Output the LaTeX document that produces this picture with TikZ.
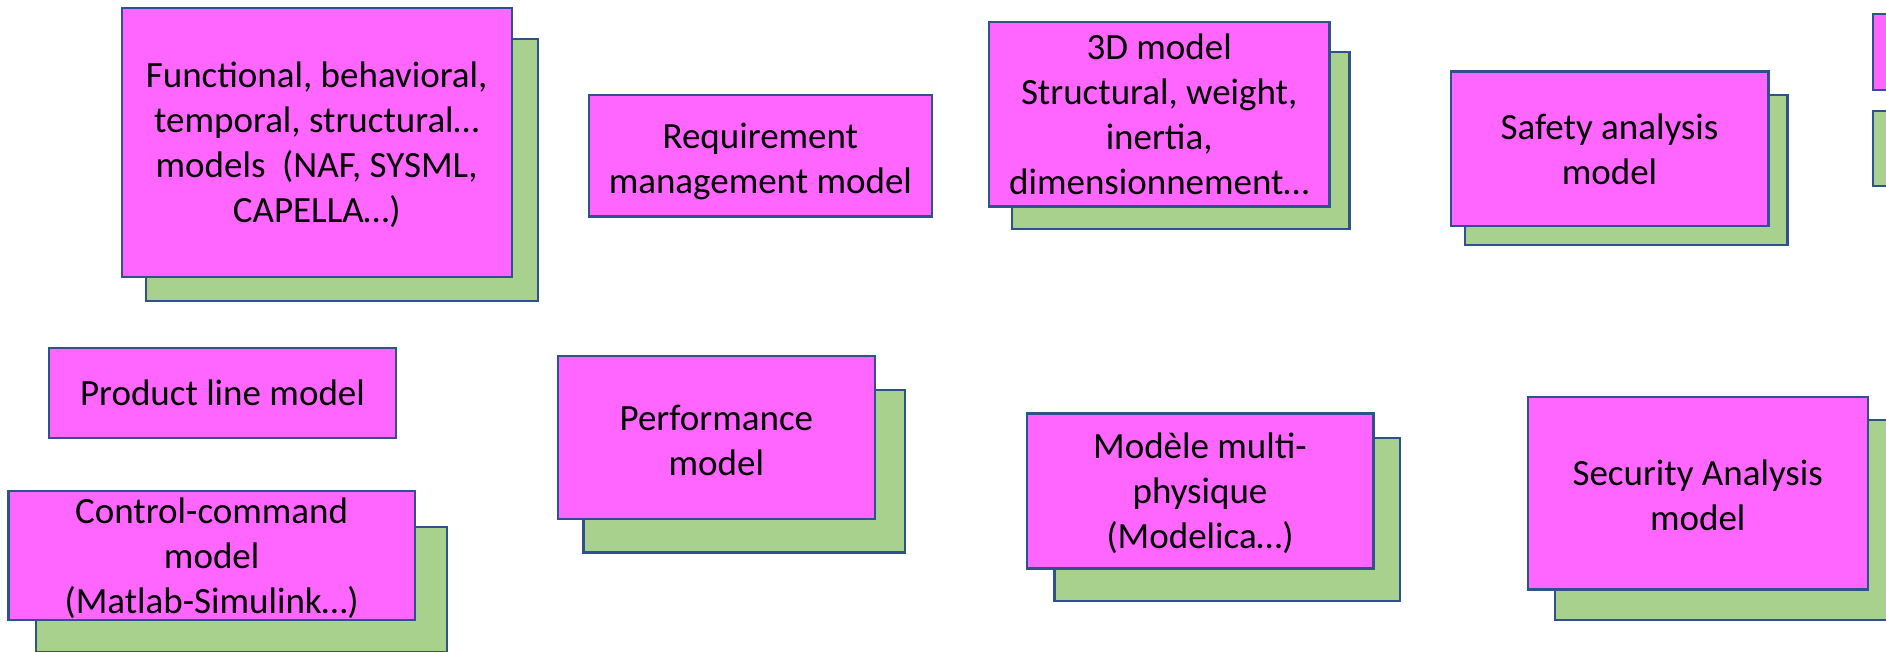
\documentclass[tikz,border=0pt]{standalone}
\usepackage{fontspec}
\setmainfont{Carlito}
\definecolor{cardpink}{HTML}{FF66FF}
\definecolor{cardgreen}{HTML}{A9D18E}
\definecolor{cardline}{HTML}{2F528F}
\tikzset{
  cardbase/.style={draw=cardline, line width=2.4pt, inner sep=0pt, outer sep=0pt, rectangle},
  frontcard/.style={cardbase, fill=cardpink},
  backcard/.style={cardbase, fill=cardgreen},
  cardtext/.style={align=center, inner sep=0pt, font=\fontsize{37}{45}\selectfont},
}
% \card[style]{name}{x1}{y1}{x2}{y2}{text}: a box given by its corners (in px, y downwards)
\newcommand{\card}[7][frontcard]{%
  \pgfmathsetmacro{\cw}{#5-#3}\pgfmathsetmacro{\ch}{#6-#4}%
  \node[#1, minimum width=\cw pt, minimum height=\ch pt] (#2) at ({(#3+#5)/2},{(#4+#6)/2}) {};%
}
% \cardlabel{name}{drop}{text}: the text of a box, centred and lowered by drop
\newcommand{\cardlabel}[3]{%
  \node[cardtext, yshift=-#2pt] (#1-text) at (#1.center) {#3};%
}
\begin{document}
\begin{tikzpicture}[x=1pt,y=-1pt]
  \useasboundingbox (0,0) rectangle (1886,652);
  \begin{scope}
  \clip (0,0) rectangle (1886,652);
  % functional models
  \card[backcard]{funcB}{146}{39.3}{537.7}{301}{}
  \card{func}{121.7}{8.3}{511.7}{276.7}{}
  \cardlabel{func}{2.5}{Functional, behavioral,\\temporal, structural…\\models\ \ (NAF, SYSML,\\CAPELLA…)}
  % requirements
  \card{req}{589}{95}{931.7}{216.7}{}
  \cardlabel{req}{6}{Requirement\\management model}
  % 3D model
  \card[backcard]{cadB}{1011.7}{52.3}{1349.3}{229}{}
  \card{cad}{989}{22.3}{1329.3}{206.7}{}
  \cardlabel{cad}{0}{3D model\\Structural, weight,\\inertia,\\dimensionnement…}
  % safety
  \card[backcard]{safB}{1465}{95}{1787.3}{245}{}
  \card{saf}{1450.7}{71.7}{1768.3}{226}{}
  \cardlabel{saf}{0.5}{Safety analysis\\model}
  % right-hand edge
  \card{edgeP}{1872.7}{14.3}{1910}{90}{}
  \card[backcard]{edgeG}{1872.7}{111}{1910}{186}{}
  % product line
  \card{prod}{49}{347.7}{396}{437.7}{}
  \cardlabel{prod}{0.5}{Product line model}
  % performance
  \card[backcard]{perfB}{583.3}{390}{905}{552.3}{}
  \card{perf}{557.7}{356}{875}{519}{}
  \cardlabel{perf}{2.5}{Performance\\model}
  % multi-physics
  \card[backcard]{physB}{1054.3}{437.7}{1400}{601}{}
  \card{phys}{1026.7}{413.3}{1373.3}{568.3}{}
  \cardlabel{phys}{2.5}{Modèle multi-\\physique\\(Modelica…)}
  % security
  \card[backcard]{secB}{1555}{420}{1910}{620}{}
  \card{sec}{1527.7}{396.7}{1867.7}{589.3}{}
  \cardlabel{sec}{2.5}{Security Analysis\\model}
  % control-command
  \card[backcard]{ctrlB}{36}{526.7}{446.7}{651.7}{}
  \card{ctrl}{8.3}{491}{415}{620}{}
  \cardlabel{ctrl}{3}{Control-command\\model\\(Matlab-Simulink…)}
  \end{scope}
\end{tikzpicture}
\end{document}
